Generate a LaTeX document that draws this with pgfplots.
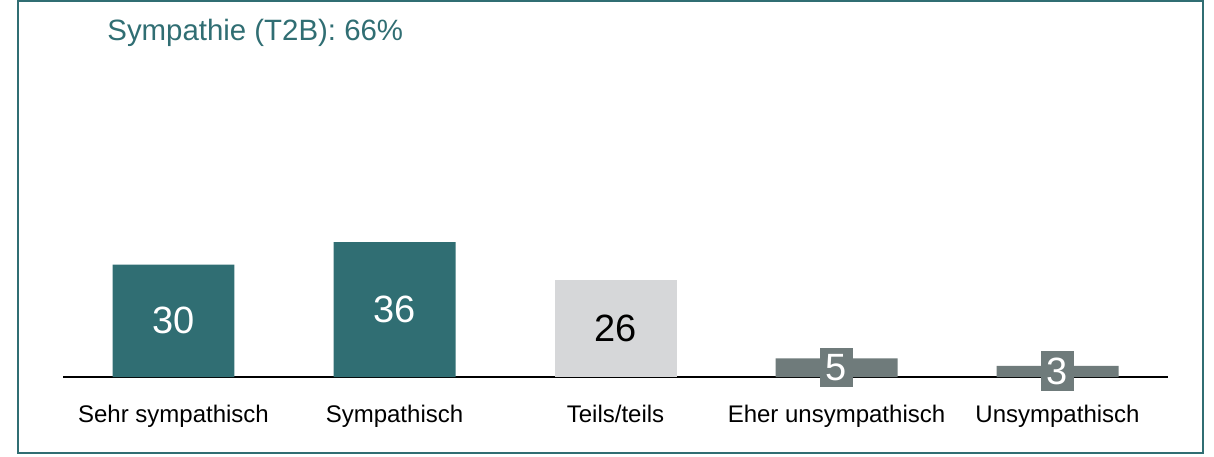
\documentclass[border=0pt]{standalone}
\usepackage{pgfplots}
\pgfplotsset{compat=1.18}
\usepackage{fontspec}
\setmainfont{Liberation Sans}
\definecolor{tealc}{HTML}{306E73}
\definecolor{lgray}{HTML}{D6D7D9}
\definecolor{dgray}{HTML}{6F7B7B}
\begin{document}
\begin{tikzpicture}[x=1pt,y=1pt]
\path[use as bounding box] (0,0) rectangle (607,228);
\draw[tealc, line width=1.1pt] (9,1.5) rectangle (601.5,227.5);
\node[anchor=base west, inner sep=0pt, text=tealc, font=\fontsize{14.7}{16}\selectfont] at (53.5,207.6) {Sympathie (T2B): 66\%};
\begin{axis}[
  at={(31.5pt,39.5pt)}, anchor=south west,
  scale only axis, width=552.5pt, height=168.75pt,
  xmin=-0.5, xmax=4.5, ymin=0, ymax=90,
  axis y line=none, axis x line*=bottom,
  x axis line style={-, black, line width=1pt},
  xtick={0,1,2,3,4},
  xticklabels={Sehr sympathisch, Sympathisch, Teils/teils, Eher unsympathisch, Unsympathisch},
  major tick length=0pt,
  ytick=\empty,
  xticklabel style={font=\fontsize{12}{14}\selectfont, yshift=-10.5pt},
  clip=false,
]
\addplot[ybar, bar width=0.552, bar shift=0pt, fill=tealc, draw=none] coordinates {(0,30) (1,36)};
\addplot[ybar, bar width=0.552, bar shift=0pt, fill=lgray, draw=none] coordinates {(2,26)};
\addplot[ybar, bar width=0.552, bar shift=0pt, fill=dgray, draw=none] coordinates {(3,5) (4,3)};
% value labels, centred in the bars
\addplot[draw=none, mark=none, point meta=explicit symbolic, nodes near coords,
  every node near coord/.style={anchor=center, text=white, font=\fontsize{19}{21}\selectfont}]
  coordinates {(0,15) [30] (1,18) [36]};
\addplot[draw=none, mark=none, point meta=explicit symbolic, nodes near coords,
  every node near coord/.style={anchor=center, text=black, font=\fontsize{19}{21}\selectfont}]
  coordinates {(2,13) [26]};
\addplot[draw=none, mark=none, point meta=explicit symbolic, nodes near coords,
  every node near coord/.style={anchor=center, text=white, fill=dgray, inner xsep=2.8pt, inner ysep=3.3pt, font=\fontsize{19}{21}\selectfont}]
  coordinates {(3,2.5) [5] (4,1.5) [3]};
\end{axis}
\end{tikzpicture}
\end{document}
